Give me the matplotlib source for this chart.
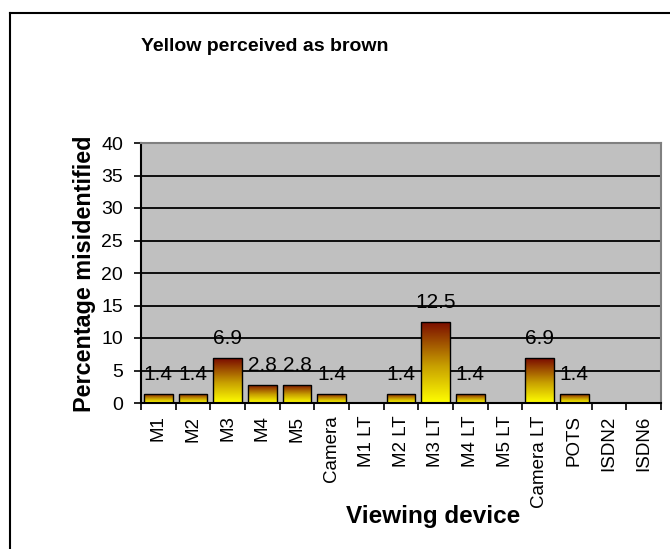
import matplotlib
matplotlib.use("Agg")
import matplotlib.pyplot as plt
import numpy as np
from matplotlib.colors import LinearSegmentedColormap
from matplotlib.lines import Line2D

plt.rcParams['font.family'] = ['Liberation Sans', 'DejaVu Sans']

categories = ["M1", "M2", "M3", "M4", "M5", "Camera", "M1 LT", "M2 LT", "M3 LT",
              "M4 LT", "M5 LT", "Camera LT", "POTS", "ISDN2", "ISDN6"]
values = [1.4, 1.4, 6.9, 2.8, 2.8, 1.4, 0, 1.4, 12.5, 1.4, 0, 6.9, 1.4, 0, 0]
labels = ["1.4", "1.4", "6.9", "2.8", "2.8", "1.4", "", "1.4", "12.5",
          "1.4", "", "6.9", "1.4", "", ""]
yticks = [0, 5, 10, 15, 20, 25, 30, 35, 40]

W, H = 670, 549
fig = plt.figure(figsize=(W / 100, H / 100), dpi=100)
ax = fig.add_axes([141 / W, (H - 403) / H, 520 / W, 260 / H])
ax.set_facecolor("#C0C0C0")

x = np.arange(len(categories))
bars = ax.bar(x, values, width=0.82, color="none", edgecolor="black",
              linewidth=1.0, zorder=3)

cmap = LinearSegmentedColormap.from_list(
    "yb", [(0.0, "#FFFF00"), (0.45, "#C8A000"), (1.0, "#7A0A00")])
grad = np.linspace(0, 1, 256).reshape(-1, 1)
for b in bars:
    h = b.get_height()
    if h <= 0:
        continue
    x0 = b.get_x()
    im = ax.imshow(grad, cmap=cmap, origin="lower", aspect="auto",
                   extent=[x0, x0 + b.get_width(), 0, h], zorder=2,
                   interpolation="bilinear")
    im.set_clip_path(b)

for xi, v, lab in zip(x, values, labels):
    if lab:
        ax.annotate(lab, (xi, v), xytext=(0, 10), textcoords="offset points",
                    ha="center", va="baseline", fontsize=15, zorder=4)

ax.set_xlim(-0.5, len(categories) - 0.5)
ax.set_ylim(0, 40)
ax.set_yticks(yticks)
ax.tick_params(axis="y", direction="out", length=5, width=1.2, labelsize=14, pad=8)
ax.set_xticks(x)
ax.set_xticklabels(categories, rotation=90, fontsize=13.5)
ax.set_xticks(np.arange(len(categories) + 1) - 0.5, minor=True)
ax.tick_params(axis="x", which="major", length=0, pad=9)
ax.tick_params(axis="x", which="minor", direction="out", length=5, width=1.2)

ax.yaxis.grid(True, color="black", linewidth=1.3, zorder=1)
ax.set_axisbelow(True)
for s in ["left", "bottom"]:
    ax.spines[s].set_color("black")
    ax.spines[s].set_linewidth(1.5)
for s in ["top", "right"]:
    ax.spines[s].set_color("#808080")
    ax.spines[s].set_linewidth(1.5)

fig.text(265 / W, 1 - 47 / H, "Yellow perceived as brown", ha="center", va="center",
         fontsize=14, fontweight="bold")
fig.text(85 / W, 1 - 274 / H, "Percentage misidentified", ha="center", va="center",
         rotation=90, fontsize=16.8, fontweight="bold")
fig.text(433 / W, 1 - 516 / H, "Viewing device", ha="center", va="center",
         fontsize=17.5, fontweight="bold")

# outer chart border (left and top visible)
fig.add_artist(Line2D([9.5 / W, 9.5 / W], [0, 1 - 13 / H], color="black",
                      linewidth=1.5, transform=fig.transFigure))
fig.add_artist(Line2D([9.5 / W, 1], [1 - 13 / H, 1 - 13 / H], color="black",
                      linewidth=1.5, transform=fig.transFigure))

fig.savefig("out.png", dpi=100)
